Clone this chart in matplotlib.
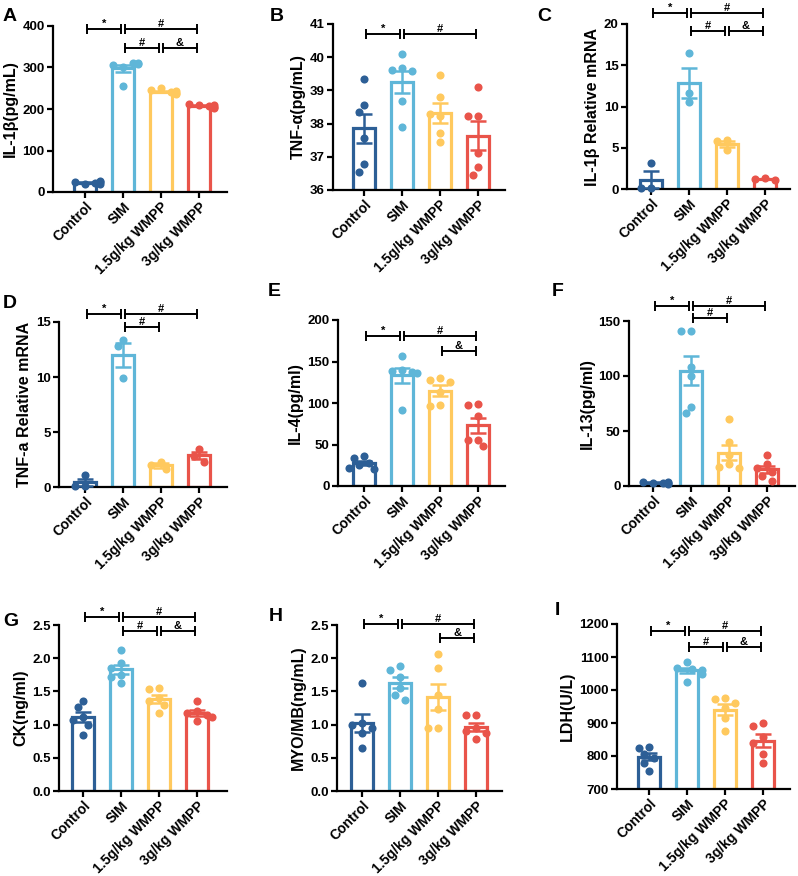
import numpy as np
import matplotlib
matplotlib.use("Agg")
import matplotlib.pyplot as plt

plt.rcParams['font.family'] = ['Liberation Sans', 'DejaVu Sans']
plt.rcParams['font.weight'] = 'bold'

groups = ['Control', 'SIM', '1.5g/kg WMPP', '3g/kg WMPP']
colors = ['#2d5f96', '#5fb6d8', '#ffc95e', '#e9544a']

# values, one list per group
il1b_pg = [[20, 24, 22, 27, 25, 19], [255, 300, 305, 310, 312, 308],
           [250, 245, 240, 238, 243, 236], [210, 212, 208, 205, 203, 210]]
tnfa_pg = [[39.33, 38.55, 38.35, 37.57, 36.77, 36.55], [40.1, 39.68, 39.6, 39.57, 38.68, 37.9],
           [39.46, 38.79, 38.23, 38.28, 37.71, 37.46], [39.11, 38.24, 38.24, 37.12, 36.68, 36.45]]
il1b_mrna = [[3.2, 0.15, 0.1], [16.5, 11.6, 10.5], [5.9, 5.8, 4.7], [1.3, 1.2, 1.15]]
tnfa_mrna = [[1.1, 0.1, 0.05], [13.4, 12.8, 9.9], [2.3, 2.0, 1.6], [3.5, 2.8, 2.3]]
il4 = [[36, 34, 28, 25, 22, 20], [157, 140, 138, 137, 136, 91],
       [130, 128, 125, 113, 97, 96], [99, 97, 84, 56, 55, 48]]
il13 = [[3, 3.5, 2.5, 3, 2, 4], [141, 141, 108, 100, 72, 66],
        [61, 40, 28, 20, 17, 16], [28, 20, 16, 13, 9, 5]]
ck = [[1.36, 1.26, 1.12, 1.07, 1.0, 0.84], [2.12, 1.93, 1.85, 1.75, 1.72, 1.62],
      [1.55, 1.54, 1.40, 1.35, 1.30, 1.18], [1.35, 1.2, 1.18, 1.15, 1.12, 1.05]]
myo = [[1.63, 1.02, 1.0, 0.95, 0.88, 0.65], [1.88, 1.82, 1.72, 1.55, 1.45, 1.37],
       [2.07, 1.85, 1.44, 1.23, 0.95, 0.95], [1.15, 1.14, 0.95, 0.9, 0.88, 0.78]]
ldh = [[827, 825, 805, 795, 780, 755], [1085, 1068, 1065, 1062, 1050, 1025],
       [975, 972, 960, 945, 915, 875], [900, 892, 858, 840, 805, 780]]

# panel: letter, data, ylabel, ylim, yticks, tick format, brackets (i, j, mark, level)
panels = [
    ('A', il1b_pg, 'IL-1β(pg/mL)', (0, 400), np.arange(0, 401, 100), '%d',
     [(0, 1, '*', 392), (1, 3, '#', 392), (1, 2, '#', 348), (2, 3, '&', 348)]),
    ('B', tnfa_pg, 'TNF-α(pg/mL)', (36, 41), np.arange(36, 42, 1), '%d',
     [(0, 1, '*', 40.7), (1, 3, '#', 40.7)]),
    ('C', il1b_mrna, 'IL-1β Relative mRNA', (0, 20), np.arange(0, 21, 5), '%d',
     [(0, 1, '*', 21.3), (1, 3, '#', 21.3), (1, 2, '#', 19.1), (2, 3, '&', 19.1)]),
    ('D', tnfa_mrna, 'TNF-a Relative mRNA', (0, 15), np.arange(0, 16, 5), '%d',
     [(0, 1, '*', 15.76), (1, 3, '#', 15.76), (1, 2, '#', 14.55)]),
    ('E', il4, 'IL-4(pg/ml)', (0, 200), np.arange(0, 201, 50), '%d',
     [(0, 1, '*', 181), (1, 3, '#', 181), (2, 3, '&', 163)]),
    ('F', il13, 'IL-13(pg/ml)', (0, 150), np.arange(0, 151, 50), '%d',
     [(0, 1, '*', 164), (1, 3, '#', 164), (1, 2, '#', 153)]),
    ('G', ck, 'CK(ng/ml)', (0, 2.5), np.arange(0, 2.51, 0.5), '%.1f',
     [(0, 1, '*', 2.62), (1, 3, '#', 2.62), (1, 2, '#', 2.41), (2, 3, '&', 2.41)]),
    ('H', myo, 'MYO/MB(ng/mL)', (0, 2.5), np.arange(0, 2.51, 0.5), '%.1f',
     [(0, 1, '*', 2.51), (1, 3, '#', 2.51), (2, 3, '&', 2.31)]),
    ('I', ldh, 'LDH(U/L)', (700, 1200), np.arange(700, 1201, 100), '%d',
     [(0, 1, '*', 1179), (1, 3, '#', 1179), (1, 2, '#', 1131), (2, 3, '&', 1131)]),
]

# layout in pixels: axes left, right, top, bottom, first bar centre; letter x, y
W, H = 798, 876
layout = [
    (53, 227, 26, 192, 85, 3, 8), (333, 505, 24, 190, 364, 270, 8), (627, 790, 24, 189, 651, 537, 8),
    (59, 227, 322, 487, 85, 3, 295), (338, 505, 320, 486, 364, 268, 283), (629, 795, 321, 486, 653, 552, 283),
    (59, 227, 625, 791, 83, 3, 613), (337, 502, 625, 791, 362, 269, 608), (617, 790, 624, 789, 649, 555, 602),
]
step = 38.0

fig = plt.figure(figsize=(W / 100, H / 100), dpi=100)


def swarm_offsets(ax, vals, diam=8.0, dx=0.13):
    # simple beeswarm: place each point at the first free slot around the centre
    pix = ax.transData.transform(np.column_stack([np.zeros(len(vals)), vals]))[:, 1]
    ppu = ax.transData.transform((1, 0))[0] - ax.transData.transform((0, 0))[0]
    cand = [0, -dx, dx, -2 * dx, 2 * dx, -3 * dx, 3 * dx]
    placed = []
    offs = []
    for py in pix:
        for c in cand:
            ok = True
            for (ox, oy) in placed:
                if np.hypot((c - ox) * ppu, py - oy) < diam:
                    ok = False
                    break
            if ok:
                break
        placed.append((c, py))
        offs.append(c)
    return np.array(offs)


for (letter, data, ylab, ylim, yt, fmt, brackets), (l, r, t, b, c0, lx, ly) in zip(panels, layout):
    ax = fig.add_axes([l / W, 1 - b / H, (r - l) / W, (b - t) / H])
    ax.set_xlim((l - c0) / step, (r - c0) / step)
    ax.set_ylim(*ylim)
    base = ylim[0]
    for i, vals in enumerate(data):
        vals = np.array(vals, dtype=float)
        m = vals.mean()
        sem = vals.std(ddof=1) / np.sqrt(len(vals))
        ax.bar(i, m - base, bottom=base, width=0.6, facecolor='white',
               edgecolor=colors[i], linewidth=2.3, zorder=2)
        offs = swarm_offsets(ax, vals)
        ax.scatter(i + offs, vals, s=34, color=colors[i], zorder=3, linewidths=0, clip_on=False)
        ax.errorbar(i, m, yerr=sem, color=colors[i], capsize=6, capthick=1.8,
                    elinewidth=1.8, zorder=4)
    for (i, j, mark, y) in brackets:
        x1, x2 = i + 0.04, j - 0.04
        ax.plot([x1, x2], [y, y], color='black', lw=1.4, clip_on=False, zorder=5)
        for xx in (x1, x2):
            ax.plot([xx], [y], marker='|', markersize=7, mew=1.4, color='black',
                    clip_on=False, zorder=5)
        ax.text((x1 + x2) / 2, y, mark, ha='center', va='bottom', fontsize=8,
                fontweight='bold', clip_on=False)
    ax.set_yticks(yt)
    ax.set_yticklabels([fmt % v for v in yt])
    ax.set_xticks(range(4))
    ax.set_xticklabels(groups, rotation=45, ha='right', rotation_mode='anchor')
    ax.spines['top'].set_visible(False)
    ax.spines['right'].set_visible(False)
    for s in ('left', 'bottom'):
        ax.spines[s].set_linewidth(1.6)
    ax.tick_params(width=1.6, length=4, pad=2)
    ax.tick_params(axis='y', labelsize=9.5)
    ax.tick_params(axis='x', labelsize=10, pad=1.5)
    for lab in ax.get_xticklabels() + ax.get_yticklabels():
        lab.set_fontweight('bold')
    ax.set_ylabel(ylab, fontsize=11.5, fontweight='bold', labelpad=3)
    fig.text(lx / W, 1 - ly / H, letter, fontsize=14, fontweight='bold', ha='left', va='top')

fig.savefig('out.png', dpi=100)
